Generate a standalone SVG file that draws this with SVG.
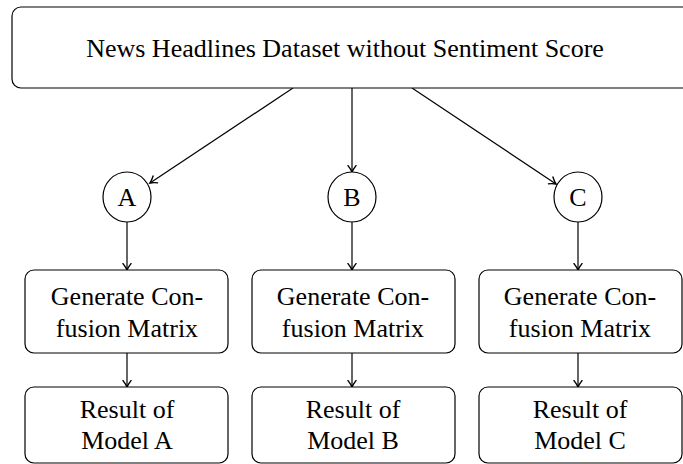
<svg xmlns="http://www.w3.org/2000/svg" width="683" height="464" viewBox="0 0 683 464">
<style>
.box{fill:#fff;stroke:#000;stroke-width:1.2}
.t{font-family:'Liberation Serif','Times New Roman',Times,serif;font-size:26px;fill:#000;text-anchor:middle}
.c{stroke:#000;stroke-width:1.2;fill:none;marker-end:url(#ar)}
</style>
<defs>
<marker id="ar" markerWidth="10" markerHeight="10" viewBox="-6 -4 8 8" refX="0" refY="0" orient="auto" markerUnits="userSpaceOnUse">
<path d="M-5.5,-3.5 Q-2,-0.8 0,0 Q-2,0.8 -5.5,3.5" fill="none" stroke="#000" stroke-width="1.1"/>
</marker>
</defs>
<rect width="683" height="464" fill="#fff"/>
<g id="connectors">
<line class="c" x1="293" y1="88" x2="150" y2="183"/>
<line class="c" x1="352" y1="88" x2="352" y2="172"/>
<line class="c" x1="412" y1="88" x2="556" y2="184"/>
<line class="c" x1="127" y1="222" x2="127" y2="270"/>
<line class="c" x1="352" y1="222" x2="352" y2="270"/>
<line class="c" x1="578" y1="222" x2="578" y2="270"/>
<line class="c" x1="127" y1="353" x2="127" y2="387"/>
<line class="c" x1="352" y1="353" x2="352" y2="387"/>
<line class="c" x1="578" y1="353" x2="578" y2="387"/>
</g>
<g id="dataset">
<rect class="box" x="12" y="7" width="690" height="81" rx="9"/>
<text class="t" x="345" y="57">News Headlines Dataset without Sentiment Score</text>
</g>
<g id="A"><ellipse class="box" cx="127" cy="197" rx="24" ry="25"/><text class="t" x="127" y="206">A</text></g>
<g id="B"><ellipse class="box" cx="352" cy="197" rx="24" ry="25"/><text class="t" x="352" y="206">B</text></g>
<g id="C"><ellipse class="box" cx="578" cy="197" rx="24" ry="25"/><text class="t" x="578" y="206">C</text></g>
<g id="genA"><rect class="box" x="25" y="270" width="203" height="83" rx="9"/><text class="t" x="127" y="305">Generate Con-</text><text class="t" x="127" y="337">fusion Matrix</text></g>
<g id="genB"><rect class="box" x="252" y="270" width="203" height="83" rx="9"/><text class="t" x="353" y="305">Generate Con-</text><text class="t" x="353" y="337">fusion Matrix</text></g>
<g id="genC"><rect class="box" x="479" y="270" width="203" height="83" rx="9"/><text class="t" x="580" y="305">Generate Con-</text><text class="t" x="580" y="337">fusion Matrix</text></g>
<g id="resA"><rect class="box" x="25" y="387" width="203" height="76" rx="9"/><text class="t" x="127" y="418">Result of</text><text class="t" x="127" y="449">Model A</text></g>
<g id="resB"><rect class="box" x="252" y="387" width="203" height="76" rx="9"/><text class="t" x="353" y="418">Result of</text><text class="t" x="353" y="449">Model B</text></g>
<g id="resC"><rect class="box" x="479" y="387" width="203" height="76" rx="9"/><text class="t" x="580" y="418">Result of</text><text class="t" x="580" y="449">Model C</text></g>
</svg>
